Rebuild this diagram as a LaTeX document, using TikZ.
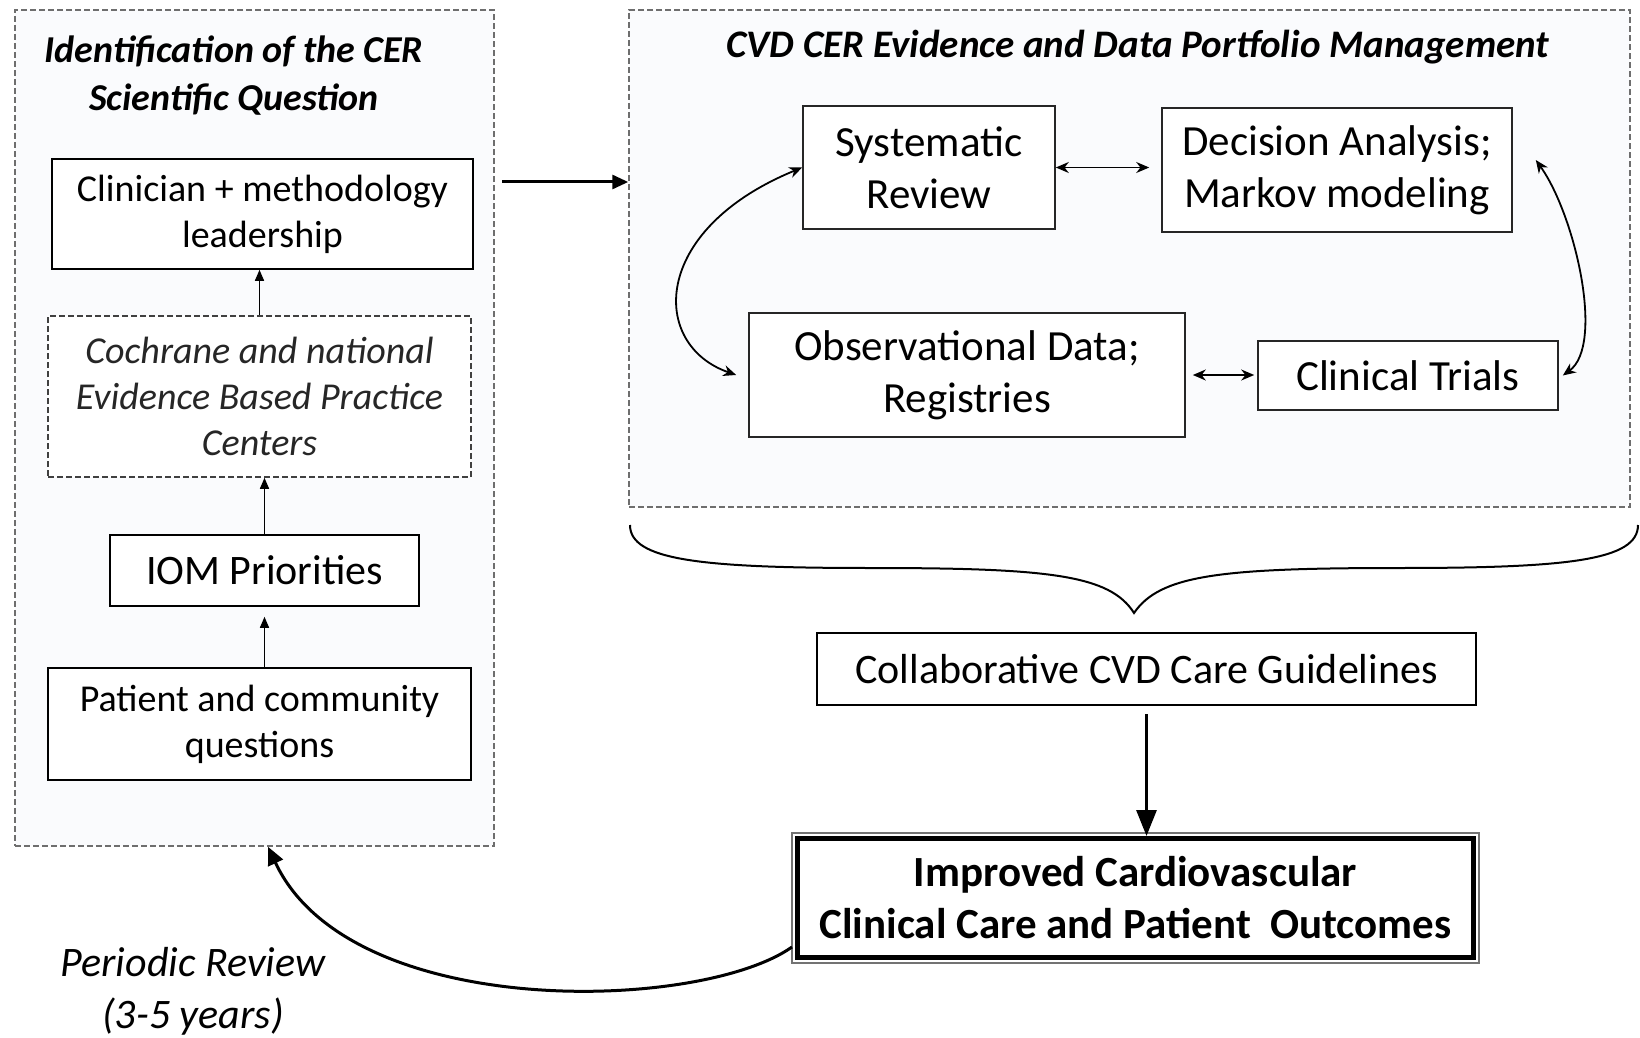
\documentclass[tikz,border=0pt]{standalone}
\usepackage{fontspec}
\setmainfont{Carlito}
\usetikzlibrary{arrows.meta}
\definecolor{grpfill}{RGB}{250,251,253}
\definecolor{dashcol}{RGB}{110,110,110}
\begin{document}
\begin{tikzpicture}[x=0.5pt,y=-0.5pt,
  grp/.style={draw=dashcol, line width=0.75pt, dash pattern=on 3pt off 1.5pt, fill=grpfill, inner sep=0pt},
  lbox/.style={draw=black, line width=0.8pt, fill=white, inner sep=0pt, align=center, font=\fontsize{19}{23}\selectfont},
  rbox/.style={draw=black!85, line width=0.8pt, fill=white, inner sep=0pt, align=center, font=\fontsize{21.5}{26}\selectfont},
  thinarrow/.style={line width=0.75pt, -{Triangle[length=5.5pt,width=4.5pt]}},
  dbl/.style={line width=0.9pt, {Stealth[length=6.5pt,width=5.5pt]}-{Stealth[length=6.5pt,width=5.5pt]}},
  bigarrow/.style={line width=1.5pt, -{Triangle[length=8pt,width=7pt]}},
]
\useasboundingbox (0,0) rectangle (1640,1038);
\fill[white] (0,0) rectangle (1640,1038);

% ---------- left group ----------
\node[grp, minimum width=239.5pt, minimum height=418pt] (leftgrp) at (254.5,428) {};
\node[font=\fontsize{19}{24}\selectfont\bfseries\itshape, align=center] (lefttitle) at (234,76) {Identification of the CER\\Scientific Question};
\node[lbox, minimum width=210.5pt, minimum height=55pt] (clin) at (262.5,214) {Clinician + methodology\\leadership};
\node[lbox, draw=black!75, dash pattern=on 3pt off 1.5pt, font=\fontsize{19}{23}\selectfont\itshape, text=black!85, minimum width=211.5pt, minimum height=80.5pt] (coch) at (259.5,396.5) {Cochrane and national\\Evidence Based Practice\\Centers};
\node[lbox, font=\fontsize{21}{25}\selectfont, minimum width=154.5pt, minimum height=35.5pt] (iom) at (264.5,570.5) {IOM Priorities};
\node[lbox, minimum width=211.5pt, minimum height=56pt] (pat) at (259.5,724) {Patient and community\\questions};

\draw[thinarrow] (coch.north) -- (coch.north |- clin.south);
\draw[thinarrow] (iom.north) -- (iom.north |- coch.south);
\draw[thinarrow, shorten >=5pt] (pat.north -| iom.north) -- (iom.south);

% ---------- right group ----------
\node[grp, minimum width=500.5pt, minimum height=248.5pt] (rightgrp) at (1129.5,258.5) {};
\node[font=\fontsize{19.5}{24}\selectfont\bfseries\itshape] (righttitle) at (1138,47) {CVD CER Evidence and Data Portfolio Management};
\node[rbox, minimum width=126pt, minimum height=61.5pt] (sys) at (929,167.5) {Systematic\\Review};
\node[rbox, minimum width=175pt, minimum height=62pt] (dec) at (1337,170) {Decision Analysis;\\Markov modeling};
\node[rbox, minimum width=218pt, minimum height=62pt] (obs) at (967,375) {Observational Data;\\Registries};
\node[rbox, minimum width=150pt, minimum height=34.5pt] (ct) at (1408,375.5) {Clinical Trials};

\draw[dbl, shorten >=6pt] (sys.east) -- (sys.east -| dec.west);
\draw[dbl, shorten <=3.5pt, shorten >=1.5pt] (obs.east) -- (obs.east -| ct.west);
\draw[dbl] ([xshift=-6pt]obs.west) .. controls (650,345) and (650,230) .. (sys.west);
\draw[dbl] ([xshift=11.5pt,yshift=5pt]dec.east) .. controls (1575,215) and (1605,345) .. ([xshift=2pt]ct.east);

% ---------- big arrow ----------
\coordinate (bigstart) at (502,182);
\draw[bigarrow] (bigstart) -- (bigstart -| rightgrp.west);

% ---------- brace ----------
\draw[line width=1pt] (630,525) .. controls (630,560) and (700,568) .. (870,568)
  .. controls (1050,568) and (1110,575) .. (1134,613)
  .. controls (1160,575) and (1220,568) .. (1400,568)
  .. controls (1570,568) and (1638,560) .. (1638,525);

% ---------- bottom ----------
\node[draw, line width=1.2pt, fill=white, inner sep=0pt, minimum width=329.5pt, minimum height=36pt, font=\fontsize{21}{25}\selectfont] (collab) at (1146.5,669) {Collaborative CVD Care Guidelines};
\node[draw, line width=2.5pt, fill=white, inner sep=0pt, minimum width=338pt, minimum height=59.5pt, font=\fontsize{21.5}{26}\selectfont\bfseries, align=center] (imp) at (1135.5,898) {Improved Cardiovascular\\Clinical Care and Patient\ \ Outcomes};
\draw[black!55, line width=0.8pt] ([shift={(-1.5pt,-1.5pt)}]imp.south west) rectangle ([shift={(1.5pt,1.5pt)}]imp.north east);

\draw[line width=1.5pt, -{Triangle[length=13pt,width=10pt]}] ([yshift=-4pt]collab.south) -- (collab.south |- imp.north);

\draw[line width=1.5pt, -{Triangle[length=9pt,width=8pt]}] ([yshift=-24.5pt,xshift=-1.5pt]imp.west) .. controls (700,1012) and (350,1022) .. ([xshift=6.75pt]leftgrp.south);

\node[font=\fontsize{21}{26}\selectfont\itshape, align=center] (per) at (193,991) {Periodic Review\\(3-5 years)};
\end{tikzpicture}
\end{document}
